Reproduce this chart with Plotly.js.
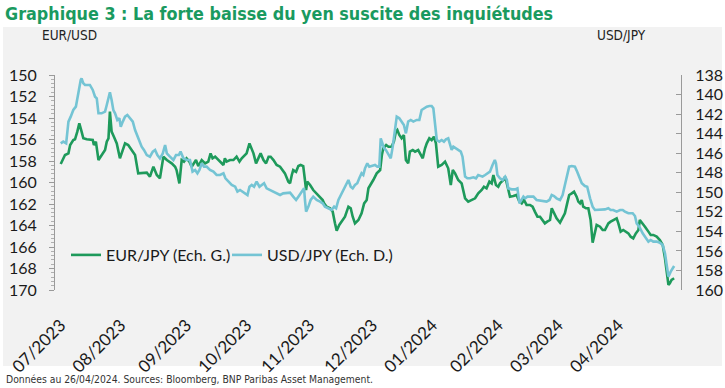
<!DOCTYPE html>
<html>
<head>
<meta charset="utf-8">
<script src="https://cdn.plot.ly/plotly-3.0.1.min.js"></script>
<style>html,body{margin:0;padding:0;background:#fff;}#chart{width:725px;height:388px;}</style>
</head>
<body>
<div id="chart"></div>
<script>
// Trading-day index since 03/07/2023 (business days)
const monthTickDays = [0, 21, 44, 65, 87, 109, 130, 153, 174, 195];
const monthLabels = ['07/2023','08/2023','09/2023','10/2023','11/2023','12/2023','01/2024','02/2024','03/2024','04/2024'];

const eurDays = [0,1.5,2.7,3.3,4.4,5.0,5.8,6.5,7.3,7.9,9.1,10.2,11.2,11.6,12.3,13.2,14.3,15.5,16.1,16.7,17.2,17.8,18.6,19.6,20.7,21.7,22.5,23.6,24.8,26.0,27.1,28.3,30.1,31.2,32.4,33.6,34.7,35.9,37.1,38.8,40.0,40.5,41.5,42.3,43.1,44.0,45.0,45.8,46.6,47.3,48.1,49.3,50.5,51.6,52.4,53.1,54.0,55.1,56.3,56.9,57.4,58.0,59.2,60.4,61.5,62.5,63.3,64.4,65.0,66.0,66.8,67.4,68.3,69.1,69.9,70.9,71.8,72.7,73.4,74.4,75.5,76.7,77.6,78.4,79.6,80.2,
80.8,81.3,82.3,83.1,83.9,84.8,85.4,85.8,86.2,87.2,88.3,89.5,90.7,91.6,92.1,93.0,94.2,95.1,95.9,96.5,97.4,98.2,99.4,100.6,101.4,102.1,102.9,104.1,105.2,106.1,107.0,107.6,108.4,109.3,110.5,111.7,112.3,112.8,113.8,114.6,115.7,116.5,117.2,117.7,118.4,119.2,120.0,120.7,121.5,122.1,123.1,123.9,125.0,125.9,126.6,127.4,128.0,128.9,129.7,130.5,131.2,132.0,133.2,134.4,135.5,136.4,137.1,137.9,139.0,140.2,141.4,142.5,143.7,144.9,146.0,147.2,148.0,148.9,149.9,150.7,151.3,152.2,153.0,153.6,
154.8,155.4,156.0,156.5,157.1,158.3,159.4,160.4,161.2,162.0,162.9,164.1,165.0,165.8,166.7,167.6,168.5,169.3,170.1,171.1,171.7,172.5,173.4,174.6,175.5,176.3,177.1,177.8,178.7,179.5,180.4,181.0,181.6,182.2,182.7,183.7,184.5,185.3,186.0,186.8,187.4,188.6,189.5,190.3,191.5,192.3,193.2,194.4,195.0,195.8,196.7,197.7,198.5,199.3,200.2,201.1,202.0,202.5,203.5,204.3,205.5,206.3,207.2,208.4,209.5,210.5,211.3,211.9,212.5,213.0,213.6,214.5];

const eurJpy = [158.28,157.44,157.29,156.51,156.05,155.98,155.27,154.50,155.27,155.89,155.98,156.05,156.05,156.51,156.20,157.91,157.44,156.98,156.20,155.89,153.41,155.27,155.74,156.36,157.75,156.98,156.36,156.51,156.98,157.44,159.15,159.15,159.09,159.46,158.53,159.30,159.61,157.60,157.91,158.22,158.53,158.84,160.08,157.91,158.06,157.75,158.06,158.53,158.22,157.91,158.47,157.91,158.22,158.06,157.29,157.75,157.60,157.91,158.22,158.37,157.75,158.06,157.91,157.91,157.60,158.06,157.75,157.44,157.29,156.36,156.98,157.29,158.22,157.75,157.29,157.91,158.22,157.60,157.60,157.91,158.37,158.53,158.84,159.15,159.92,160.08,
159.30,158.84,159.00,158.47,158.37,158.47,159.77,160.70,159.92,160.23,160.70,161.01,161.32,161.63,161.94,162.25,162.40,162.71,163.80,164.48,163.95,163.64,163.18,162.25,162.40,163.18,163.80,163.49,162.87,161.94,161.63,160.54,160.23,159.77,159.15,158.84,157.44,156.82,156.51,156.67,156.67,156.20,155.27,155.12,155.58,155.89,155.58,157.91,158.22,157.13,156.98,157.13,156.98,157.44,157.75,156.82,156.36,155.89,156.05,155.74,156.36,158.53,158.37,158.06,158.68,160.23,158.84,159.15,159.77,160.08,161.47,161.78,161.63,161.47,161.01,160.70,160.39,160.54,159.92,160.08,159.30,160.23,160.39,160.08,
159.77,159.46,160.08,160.54,161.32,161.26,161.16,161.78,161.94,161.63,162.09,162.09,162.25,162.71,163.18,163.18,163.49,163.80,163.64,163.49,162.40,162.87,163.33,163.74,163.33,162.87,161.94,161.16,161.01,160.85,161.32,161.78,161.94,161.63,162.25,162.40,162.40,163.49,165.60,164.73,163.95,164.11,164.42,164.42,163.80,163.64,163.49,163.33,163.80,164.57,164.42,164.57,164.73,165.04,165.19,164.73,164.42,163.49,163.80,164.11,164.57,164.88,164.88,165.04,165.35,165.81,167.05,168.45,169.53,169.38,169.07,168.91];

const usdDays = [0,0.9,1.9,2.7,3.5,4.4,5.3,5.8,6.5,7.0,7.3,7.9,8.5,10.2,11.2,12.0,12.6,13.2,14.3,15.5,16.1,16.7,17.2,17.8,18.4,19.0,19.8,20.5,21.0,21.7,22.5,23.3,24.2,25.2,26.0,27.1,28.3,29.1,30.1,31.2,32.2,33.0,33.8,34.7,35.7,36.5,37.1,38.2,39.4,40.3,41.3,41.9,42.9,44.0,45.2,46.1,47.0,47.8,48.5,49.3,50.1,51.0,52.2,53.4,54.5,55.7,56.9,57.6,58.6,59.8,61.0,61.8,62.7,63.6,64.4,65.3,66.0,66.8,67.6,68.5,69.5,70.3,71.1,72.0,73.2,74.3,75.5,76.7,77.8,79.6,
80.2,81.3,82.3,83.1,84.3,85.1,85.4,85.8,86.6,87.4,88.3,89.5,90.7,91.6,92.4,93.6,94.7,95.6,96.3,97.1,97.9,98.8,99.8,100.6,101.4,102.1,102.9,103.7,104.4,105.2,105.8,106.4,107.2,107.9,108.7,109.9,110.7,111.4,111.9,112.6,113.1,113.7,114.6,115.4,116.1,116.9,117.5,118.4,119.2,120.0,120.7,121.5,122.4,123.3,124.5,125.4,126.2,127.0,128.0,128.9,129.7,130.3,130.9,131.5,132.4,133.2,134.0,134.7,135.5,136.1,136.7,137.3,138.2,139.0,139.9,140.5,141.4,142.2,143.1,144.3,145.2,146.0,
147.5,148.4,149.2,150.1,151.0,151.8,152.2,152.7,153.6,154.5,155.4,156.0,156.5,157.7,158.9,159.7,160.4,161.2,161.8,162.4,163.2,164.1,165.3,166.4,167.6,168.8,169.9,170.9,171.7,172.5,173.4,174.6,175.5,176.3,177.1,177.8,178.7,179.8,180.6,181.3,182.2,183.3,184.1,185.1,186.0,186.8,188.0,189.1,190.3,191.5,192.3,193.2,194.4,195.6,196.5,197.3,198.5,200.0,200.8,201.4,202.3,203.5,204.3,205.5,206.3,207.2,208.4,209.5,210.5,211.3,211.9,212.5,213.3,214.5];

const usdJpy = [145.00,144.82,144.99,142.77,142.26,141.58,141.24,140.39,139.02,138.51,138.34,138.85,139.02,139.02,139.53,140.22,140.39,141.92,141.92,141.75,141.07,140.39,139.77,140.56,141.58,141.92,142.60,142.43,143.29,142.77,142.26,142.09,142.43,142.77,143.63,144.48,145.33,145.67,146.19,146.36,145.84,145.67,146.19,146.53,146.02,145.16,146.02,146.36,146.70,146.19,146.19,145.84,146.53,146.70,146.70,147.89,147.72,148.06,147.72,147.04,147.38,147.38,147.72,147.89,148.23,148.23,148.06,148.57,148.91,149.25,149.43,149.94,149.77,149.94,150.11,150.28,149.43,149.25,149.43,148.91,149.43,149.25,149.08,149.60,149.77,149.94,150.11,150.28,150.11,150.11,
150.04,150.45,150.79,150.45,149.94,149.60,150.79,151.98,151.47,150.79,150.45,150.79,150.96,151.13,151.47,151.64,151.81,151.47,151.64,150.79,150.28,149.77,149.25,148.74,149.43,149.60,149.25,149.08,148.57,148.06,148.23,147.55,147.04,147.38,147.31,147.21,147.38,147.38,144.48,144.99,145.50,145.67,146.19,146.53,145.33,143.29,142.26,142.43,142.77,143.12,143.97,142.77,142.60,142.77,142.60,142.60,141.58,141.41,141.24,141.17,141.17,141.41,142.94,144.65,144.82,144.65,144.82,144.58,144.48,144.99,145.67,145.33,145.50,145.67,145.84,146.36,148.40,148.57,148.57,148.47,148.57,148.23,
148.40,148.23,148.06,147.89,147.21,146.70,147.04,148.23,148.57,148.74,148.40,148.74,149.60,149.70,149.70,149.60,151.13,150.79,150.45,150.62,150.45,150.45,150.45,150.79,150.86,150.96,150.96,150.79,150.28,150.38,150.62,150.79,150.28,149.25,148.23,147.38,147.31,147.38,147.89,148.40,149.08,149.36,149.43,150.62,151.47,151.81,151.81,151.81,151.75,151.64,151.81,151.81,151.98,151.81,151.81,151.98,152.15,152.15,152.43,153.18,153.52,154.20,154.54,155.05,154.88,155.05,155.05,155.16,155.39,156.25,157.44,158.63,158.12,157.54];

const leftTicks = {first: 150, last: 170, step: 2};
const rightTicks = {first: 138, last: 160, step: 2};

const titleText = 'Graphique 3 : La forte baisse du yen suscite des inquiétudes';
const leftUnit = 'EUR/USD';
const rightUnit = 'USD/JPY';
const sourceText = 'Données au 26/04/2024. Sources: Bloomberg, BNP Paribas Asset Management.';
const eurName = 'EUR/JPY (Ech. G.)';
const usdName = 'USD/JPY (Ech. D.)';

// ---- layout geometry (pixels) ----
const W = 725, H = 388;
const M = {l: 55, r: 44, t: 75, b: 98};
const PW = W - M.l - M.r, PH = H - M.t - M.b;
const px = x => (x - M.l) / PW;
const py = y => (H - M.b - y) / PH;

const narrow = 'DejaVu Sans Condensed, sans-serif';
const body = 'Lato, Open Sans, sans-serif';
const legendFont = {family: body, size: 16, color: '#1a1a1a'};

const traces = [
  {x: eurDays, y: eurJpy, name: eurName, type: 'scatter', mode: 'lines', yaxis: 'y', legend: 'legend',
   line: {color: '#1e9a5b', width: 2.6}},
  {x: usdDays, y: usdJpy, name: usdName, type: 'scatter', mode: 'lines', yaxis: 'y2', legend: 'legend2',
   line: {color: '#74c4d4', width: 2.6}}
];

const layout = {
  width: W, height: H,
  margin: M,
  paper_bgcolor: '#ffffff',
  plot_bgcolor: 'rgba(0,0,0,0)',
  showlegend: true,
  title: {text: titleText, xref: 'container', yref: 'container', x: 5 / W, xanchor: 'left',
          y: 1 - 14 / H, yanchor: 'middle',
          font: {family: narrow, size: 17.8, color: '#1a9a60', weight: 'bold'}},
  xaxis: {
    range: [-2, 216.9], tickmode: 'array', tickvals: monthTickDays, ticktext: monthLabels,
    tickangle: -45, showline: false, showgrid: false, zeroline: false, ticks: '',
    ticklabelstandoff: 21, automargin: false,
    tickfont: {family: body, size: 17, color: '#1a1a1a'}
  },
  yaxis: {
    range: [leftTicks.last, leftTicks.first], tickmode: 'linear', tick0: leftTicks.first, dtick: leftTicks.step,
    ticks: 'outside', ticklen: 5, tickcolor: '#9a9a9a', showline: true, linecolor: '#9a9a9a', linewidth: 1,
    showgrid: false, zeroline: false, automargin: false, ticklabelstandoff: 9,
    minor: {ticks: 'outside', ticklen: 3, dtick: 0.4, tickcolor: '#b0b0b0', showgrid: false},
    tickfont: {family: body, size: 16, color: '#1a1a1a'}
  },
  yaxis2: {
    overlaying: 'y', side: 'right',
    range: [rightTicks.last, rightTicks.first], tickmode: 'linear', tick0: rightTicks.first, dtick: rightTicks.step,
    ticks: 'inside', ticklen: 5, tickcolor: '#9a9a9a', showline: true, linecolor: '#9a9a9a', linewidth: 1,
    showgrid: false, zeroline: false, automargin: false, ticklabelstandoff: 10,
    tickfont: {family: body, size: 16, color: '#1a1a1a'}
  },
  legend: {orientation: 'h', x: px(66), xanchor: 'left', y: py(255), yanchor: 'middle',
           bgcolor: 'rgba(0,0,0,0)', itemwidth: 30, font: legendFont},
  legend2: {orientation: 'h', x: px(227), xanchor: 'left', y: py(255), yanchor: 'middle',
           bgcolor: 'rgba(0,0,0,0)', itemwidth: 30, font: legendFont},
  shapes: [{type: 'rect', xref: 'paper', yref: 'paper', layer: 'below',
            x0: px(3), x1: px(722), y0: py(366), y1: py(27),
            fillcolor: '#f2f2f2', line: {width: 0}}],
  annotations: [
    {text: leftUnit, xref: 'paper', yref: 'paper', x: px(40), y: py(35), xanchor: 'left', yanchor: 'middle',
     showarrow: false, font: {family: narrow, size: 13.5, color: '#222'}},
    {text: rightUnit, xref: 'paper', yref: 'paper', x: px(595), y: py(35), xanchor: 'left', yanchor: 'middle',
     showarrow: false, font: {family: narrow, size: 13.5, color: '#222'}},
    {text: sourceText, xref: 'paper', yref: 'paper', x: px(4), y: py(379), xanchor: 'left', yanchor: 'middle',
     showarrow: false, font: {family: narrow, size: 10.3, color: '#333'}}
  ]
};

Plotly.newPlot('chart', traces, layout, {displayModeBar: false, staticPlot: true});
</script>
</body>
</html>
